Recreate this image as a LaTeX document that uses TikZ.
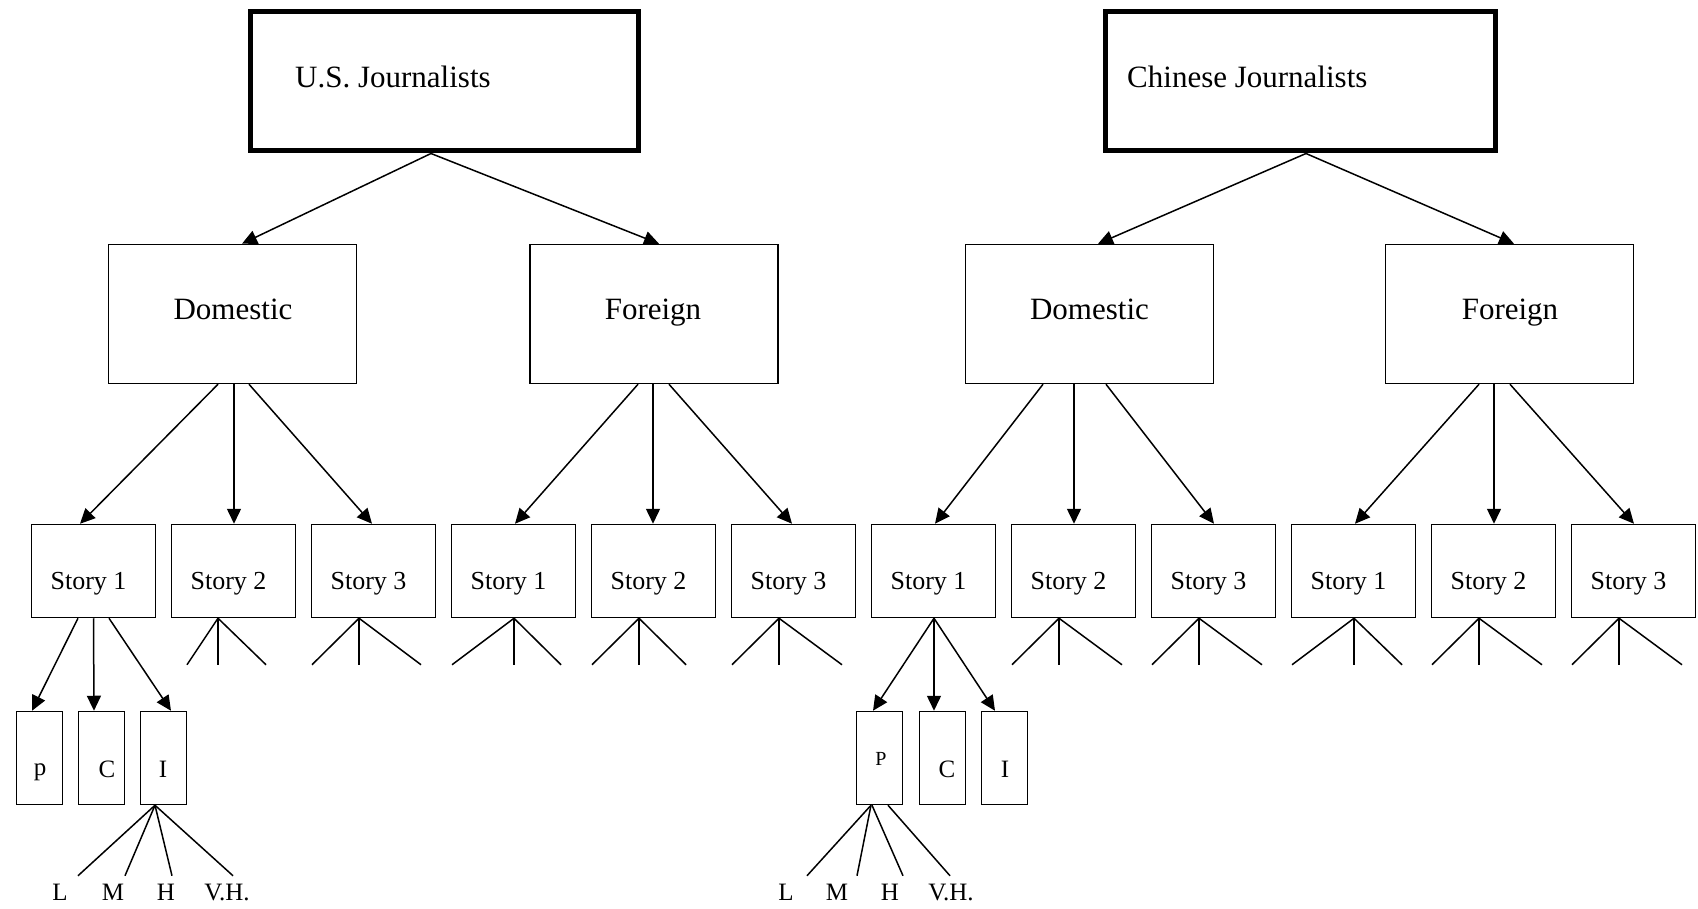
\documentclass[tikz,border=0pt]{standalone}
\usepackage{fontspec}
\setmainfont{Liberation Serif}
\usetikzlibrary{arrows.meta,calc}
\begin{document}
\begin{tikzpicture}[x=1pt,y=-1pt,
  thickbox/.style={draw, line width=5pt, inner sep=0pt, minimum width=#1, minimum height=139pt},
  midbox/.style={draw, line width=1.5pt, inner sep=0pt, minimum width=248pt, minimum height=139pt},
  storybox/.style={draw, line width=1.5pt, inner sep=0pt, minimum width=124pt, minimum height=93pt},
  smallbox/.style={draw, line width=1.5pt, inner sep=0pt, minimum width=46pt, minimum height=93pt},
  arr/.style={line width=1.5pt, -{Triangle[length=15pt,width=14pt]}},
  branch/.style={line width=1.5pt},
  bigtext/.style={font=\fontsize{31}{36}\selectfont, inner sep=0pt},
  storytext/.style={font=\fontsize{26}{30}\selectfont, inner sep=0pt, anchor=base},
  lettertext/.style={font=\fontsize{25}{29}\selectfont, inner sep=0pt, anchor=base},
  smalltext/.style={font=\fontsize{20}{24}\selectfont, inner sep=0pt, anchor=base}
]
\useasboundingbox[fill=white] (0,0) rectangle (1698,909);

% top boxes
\node[thickbox=388pt] (usj) at (444,81.5) {};
\node[bigtext, anchor=base west] (usjt) at (295,88) {U.S. Journalists};
\node[thickbox=390pt] (cnj) at (1300.5,81.5) {};
\node[bigtext, anchor=base west] (cnjt) at (1127,88) {Chinese Journalists};

% middle boxes
\node[midbox] (ud) at (232.5,314) {};
\node[bigtext, anchor=base] (udt) at (233,320) {Domestic};
\node[midbox] (uf) at (654,314) {};
\node[bigtext, anchor=base] (uft) at (653,320) {Foreign};
\node[midbox] (cd) at (1089.5,314) {};
\node[bigtext, anchor=base] (cdt) at (1089.5,320) {Domestic};
\node[midbox] (cf) at (1509.5,314) {};
\node[bigtext, anchor=base] (cft) at (1510,320) {Foreign};

% story boxes
\foreach \i in {0,...,11} {
  \pgfmathtruncatemacro\n{mod(\i,3)+1}
  \node[storybox] (s\i) at ({93.5+140*\i},571) {};
  \node[storytext] (t\i) at ({88.5+140*\i},589) {Story \n};
}

% top arrows
\draw[arr] ([xshift=-13pt]usj.south) -- ([xshift=9.5pt]ud.north);
\draw[arr] ([xshift=-13pt]usj.south) -- ([xshift=5pt]uf.north);
\draw[arr] ([xshift=5.5pt]cnj.south) -- ([xshift=8.5pt]cd.north);
\draw[arr] ([xshift=5.5pt]cnj.south) -- ([xshift=4.5pt]cf.north);

% middle arrows
\draw[arr] ([xshift=-14.5pt]ud.south) -- ([xshift=-13.5pt]s0.north);
\draw[arr] ([xshift=1.5pt]ud.south) -- ([xshift=0.5pt]s1.north);
\draw[arr] ([xshift=16.5pt]ud.south) -- ([xshift=-1.5pt]s2.north);
\draw[arr] ([xshift=-16pt]uf.south) -- ([xshift=1.5pt]s3.north);
\draw[arr] ([xshift=-1pt]uf.south) -- ([xshift=-0.5pt]s4.north);
\draw[arr] ([xshift=15pt]uf.south) -- ([xshift=-1.5pt]s5.north);
\draw[arr] ([xshift=-46.5pt]cd.south) -- ([xshift=1.5pt]s6.north);
\draw[arr] ([xshift=-15.5pt]cd.south) -- ([xshift=0.5pt]s7.north);
\draw[arr] ([xshift=16.5pt]cd.south) -- ([xshift=0.5pt]s8.north);
\draw[arr] ([xshift=-30.5pt]cf.south) -- ([xshift=1.5pt]s9.north);
\draw[arr] ([xshift=-15.5pt]cf.south) -- ([xshift=0.5pt]s10.north);
\draw[arr] ([xshift=0.5pt]cf.south) -- ([xshift=0.5pt]s11.north);

% story branches
\foreach \i/\a/\l/\r in {1/-15.5/-46.5/32.5, 2/-14.5/-61.5/47.5, 3/0.5/-61.5/47.5,
    4/-14.5/-61.5/32.5, 5/-14.5/-61.5/48.5, 7/-14.5/-61.5/48.5, 8/-14.5/-61.5/48.5,
    9/0.5/-61.5/48.5, 10/-14.5/-61.5/48.5, 11/-14.5/-61.5/48.5} {
  \coordinate (s\i-l) at ($(s\i.south)+(\l,46.5)$);
  \coordinate (s\i-m) at ($(s\i.south)+(\a,46.5)$);
  \coordinate (s\i-r) at ($(s\i.south)+(\r,46.5)$);
  \draw[branch] ([xshift=\a pt]s\i.south) -- (s\i-l);
  \draw[branch] ([xshift=\a pt]s\i.south) -- (s\i-m);
  \draw[branch] ([xshift=\a pt]s\i.south) -- (s\i-r);
}

% small boxes (US)
\node[smallbox] (up) at (39.5,758) {};
\node[lettertext] (upt) at (40,775) {p};
\node[smallbox] (uc) at (101.5,758) {};
\node[lettertext] (uct) at (107,777) {C};
\node[smallbox] (ui) at (163.5,758) {};
\node[lettertext] (uit) at (163,777) {I};
% small boxes (CN)
\node[smallbox] (cp) at (879.5,758) {};
\node[smalltext] (cpt) at (881,765) {P};
\node[smallbox] (cc) at (942.5,758) {};
\node[lettertext] (cct) at (947,777) {C};
\node[smallbox] (ci) at (1004.5,758) {};
\node[lettertext] (cit) at (1005,777) {I};

% story1 arrows
\draw[arr] ([xshift=-15.5pt]s0.south) -- ([xshift=-7.5pt]up.north);
\draw[arr] (s0.south) -- ([xshift=-7.5pt]uc.north);
\draw[arr] ([xshift=15.5pt]s0.south) -- ([xshift=7.5pt]ui.north);
\draw[arr] ([xshift=0.5pt]s6.south) -- ([xshift=-6.5pt]cp.north);
\draw[arr] ([xshift=0.5pt]s6.south) -- ([xshift=-8.5pt]cc.north);
\draw[arr] ([xshift=0.5pt]s6.south) -- ([xshift=-9.5pt]ci.north);

% bottom branches US
\coordinate (uL) at ($(ui.south)+(-85.5,70.5)$);
\coordinate (uM) at ($(ui.south)+(-38.5,70.5)$);
\coordinate (uH) at ($(ui.south)+(8.5,70.5)$);
\coordinate (uV) at ($(ui.south)+(69.5,70.5)$);
\draw[branch] ([xshift=-8.5pt]ui.south) -- (uL);
\draw[branch] ([xshift=-8.5pt]ui.south) -- (uM);
\draw[branch] ([xshift=-8.5pt]ui.south) -- (uH);
\draw[branch] ([xshift=-8.5pt]ui.south) -- (uV);
% bottom branches CN
\coordinate (cL) at ($(cp.south)+(-72.5,70.5)$);
\coordinate (cM) at ($(cp.south)+(-22.5,70.5)$);
\coordinate (cH) at ($(cp.south)+(23.5,70.5)$);
\coordinate (cV) at ($(cp.south)+(70.5,70.5)$);
\draw[branch] ([xshift=-8.5pt]cp.south) -- (cL);
\draw[branch] ([xshift=-8.5pt]cp.south) -- (cM);
\draw[branch] ([xshift=-7.5pt]cp.south) -- (cH);
\draw[branch] ([xshift=8.5pt]cp.south) -- (cV);

% level labels
\node[lettertext] (uLt) at (60,900) {L};
\node[lettertext] (uMt) at (113,900) {M};
\node[lettertext] (uHt) at (166,900) {H};
\node[lettertext] (uVt) at (227,900) {V.H.};
\node[lettertext] (cLt) at (786,900) {L};
\node[lettertext] (cMt) at (837,900) {M};
\node[lettertext] (cHt) at (890,900) {H};
\node[lettertext] (cVt) at (951,900) {V.H.};
\end{tikzpicture}
\end{document}
